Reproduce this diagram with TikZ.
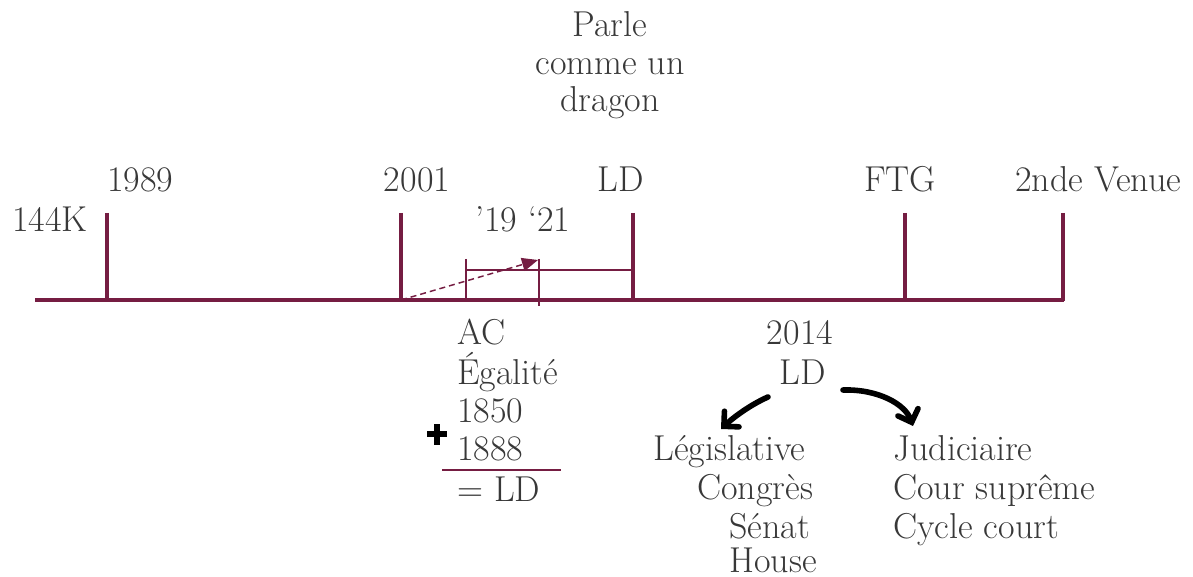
\documentclass[tikz,border=0pt]{standalone}
\usepackage{fontspec}
\usetikzlibrary{arrows.meta}
\definecolor{maroon}{RGB}{117,29,66}
\definecolor{txt}{RGB}{56,56,56}
\begin{document}
\begin{tikzpicture}[x=0.75pt,y=-0.75pt,
  lbl/.style={inner sep=0pt, text=txt, font=\fontsize{27}{31}\selectfont},
  lw/.style={lbl, anchor=base west},
  lc/.style={lbl, anchor=base},
  axisline/.style={draw=maroon, line width=3pt},
  tickline/.style={draw=maroon, line width=3pt},
  smalltick/.style={draw=maroon, line width=2.2pt},
  dasharrow/.style={draw=maroon, line width=1.1pt, dashed, dash pattern=on 4.5pt off 3pt, -{Triangle[length=12pt,width=10pt]}},
  sumrule/.style={draw=maroon, line width=0.9pt},
  plusmark/.style={draw=black, line width=3.8pt},
  handarrow/.style={draw=black, line width=4.2pt, line cap=round, -{Straight Barb[length=8pt,width=16pt,line cap=round]}}
  ]
\useasboundingbox (0,0) rectangle (1193,577);

% timeline
\coordinate (axL) at (35,300);
\coordinate (axR) at (1064,300);
\draw[axisline] (axL) -- (axR);
\coordinate (t1) at (107,213); \coordinate (b1) at (107,300);
\coordinate (t2) at (401,213); \coordinate (b2) at (401,300);
\coordinate (t3) at (633,213); \coordinate (b3) at (633,300);
\coordinate (t4) at (905,213); \coordinate (b4) at (905,300);
\coordinate (t5) at (1063,213); \coordinate (b5) at (1063,301.5);
\draw[tickline] (t1) -- (b1);
\draw[tickline] (t2) -- (b2);
\draw[tickline] (t3) -- (b3);
\draw[tickline] (t4) -- (b4);
\draw[tickline] (t5) -- (b5);

% inner ticks
\coordinate (s1t) at (466,259); \coordinate (s1b) at (466,300);
\coordinate (s2t) at (539,259); \coordinate (s2b) at (539,306);
\coordinate (hL) at (466,270); \coordinate (hR) at (633,270);
\draw[smalltick] (s1t) -- (s1b);
\draw[smalltick] (s2t) -- (s2b);
\draw[smalltick] (hL) -- (hR);
\coordinate (dA) at (401,300); \coordinate (dB) at (538,260);
\draw[dasharrow] (dA) -- (dB);

% top labels
\node[lw] (l1989) at (107,192) {1989};
\node[lc] (l2001) at (417,192) {2001};
\node[lc] (lLD) at (621,192) {LD};
\node[lc] (lFTG) at (900,192) {FTG};
\node[lw] (lVenue) at (1015,192) {2nde Venue};
\node[lw] (l144) at (12,232) {144K};
\node[lw] (lyrs) at (475,232) {’19 ‘21};
\node[lc] (p1) at (610,37) {Parle};
\node[lc] (p2) at (610,75) {comme un};
\node[lc] (p3) at (610,112) {dragon};

% sum block
\node[lw] (a1) at (457,345) {AC};
\node[lw] (a2) at (457,384) {Égalité};
\node[lw] (a3) at (457,422) {1850};
\node[lw] (a4) at (457,460) {1888};
\node[lw] (a5) at (457,501) {= LD};
\coordinate (rL) at (442,470); \coordinate (rR) at (561,470);
\draw[sumrule] (rL) -- (rR);
\coordinate (pxL) at (427,434); \coordinate (pxR) at (447,434);
\coordinate (pyT) at (437,424); \coordinate (pyB) at (437,445);
\draw[plusmark] (pxL) -- (pxR);
\draw[plusmark] (pyT) -- (pyB);

% 2014 block
\node[lc] (y2014) at (800,345) {2014};
\node[lc] (ld2) at (803,384) {LD};
\node[lw] (leg) at (653,460) {Législative};
\node[lw] (cong) at (697,499) {Congrès};
\node[lw] (sen) at (729,538) {Sénat};
\node[lw] (hou) at (729,572) {House};
\node[lw] (jud) at (893,460) {Judiciaire};
\node[lw] (cour) at (893,499) {Cour suprême};
\node[lw] (cyc) at (893,538) {Cycle court};

\coordinate (aLs) at (768,397); \coordinate (aLe) at (721,429);
\coordinate (aRs) at (843,390); \coordinate (aRe) at (913,426);
\draw[handarrow] (aLs) .. controls (752,404) and (735,416) .. (aLe);
\draw[handarrow] (aRs) .. controls (878,389) and (905,404) .. (aRe);
\end{tikzpicture}
\end{document}
